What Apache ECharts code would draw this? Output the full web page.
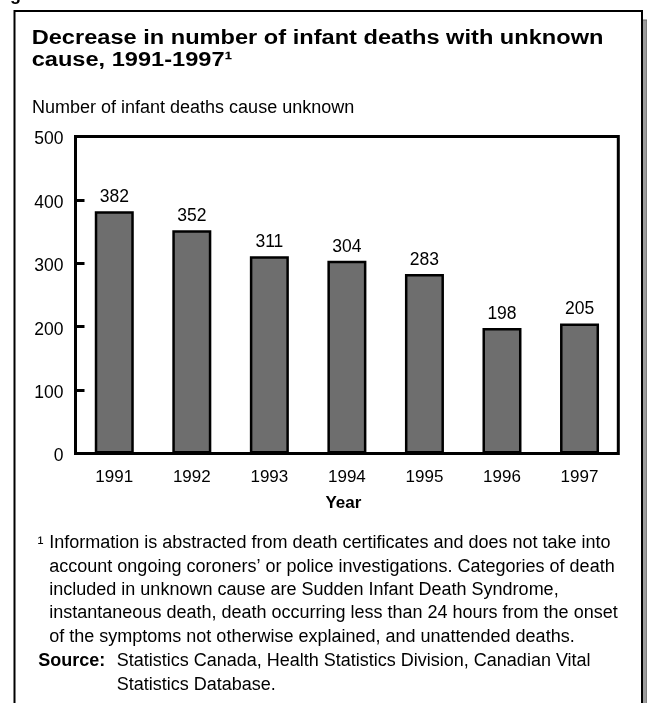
<!DOCTYPE html>
<html>
<head>
<meta charset="utf-8">
<script src="https://cdn.jsdelivr.net/npm/echarts@6/dist/echarts.min.js"></script>
<style>
html,body{margin:0;padding:0;background:#fff;}
#chart{width:647px;height:703px;}
</style>
</head>
<body>
<div id="chart"></div>
<script>
const years = ['1991','1992','1993','1994','1995','1996','1997'];
const deaths = [382, 352, 311, 304, 283, 198, 205];
const yTicks = [0, 100, 200, 300, 400, 500];

const titleLines = ['Decrease in number of infant deaths with unknown', 'cause, 1991-1997\u00B9'];
const yAxisTitle = 'Number of infant deaths cause unknown';
const xAxisTitle = 'Year';
const noteLines = [
  'Information is abstracted from death certificates and does not take into',
  'account ongoing coroners\u2019 or police investigations. Categories of death',
  'included in unknown cause are Sudden Infant Death Syndrome,',
  'instantaneous death, death occurring less than 24 hours from the onset',
  'of the symptoms not otherwise explained, and unattended deaths.'
];
const sourceLines = ['Statistics Canada, Health Statistics Division, Canadian Vital', 'Statistics Database.'];

const FF = '"Liberation Sans", Arial, Helvetica, sans-serif';
const chart = echarts.init(document.getElementById('chart'), null, {renderer: 'canvas'});

const option = {
  backgroundColor: '#fff',
  animation: false,
  grid: {
    left: 75.5, right: 28.7, top: 136.5, height: 317,
    show: true, borderColor: '#000', borderWidth: 3, backgroundColor: 'transparent'
  },
  xAxis: {
    type: 'category',
    data: years,
    name: xAxisTitle,
    nameLocation: 'middle',
    nameGap: 41,
    nameTextStyle: {fontFamily: FF, fontSize: 17, fontWeight: 'bold', color: '#000', padding: [0, 7, 0, 0]},
    axisLine: {show: false},
    axisTick: {show: false},
    axisLabel: {fontFamily: FF, fontSize: 17, color: '#000', margin: 15}
  },
  yAxis: {
    type: 'value',
    min: yTicks[0], max: yTicks[yTicks.length - 1], interval: yTicks[1] - yTicks[0],
    splitLine: {show: false},
    axisLine: {show: false},
    axisTick: {show: true, inside: true, length: 9, lineStyle: {color: '#000', width: 3}},
    axisLabel: {
      fontFamily: FF, fontSize: 17.5, color: '#000', margin: 12,
      formatter: '{v|{value}}',
      rich: {v: {fontFamily: FF, fontSize: 17.5, color: '#000', padding: [6, 0, 0, 0]}}
    }
  },
  series: [{
    type: 'bar',
    data: deaths,
    barWidth: 39,
    itemStyle: {color: '#6e6e6e', borderColor: '#000', borderWidth: 2.5},
    label: {show: true, position: 'top', distance: 5, fontFamily: FF, fontSize: 17.5, color: '#000'}
  }],
  graphic: [
    {type: 'rect', z: -1, shape: {x: 642.5, y: 20, width: 4.5, height: 700}, style: {fill: '#9c9c9c', stroke: '#6a6a6a', lineWidth: 1}},
    {type: 'rect', z: 0, shape: {x: 14.5, y: 11, width: 627.5, height: 710}, style: {fill: 'none', stroke: '#000', lineWidth: 2}},
    {type: 'text', x: -6, y: 4, style: {text: 'Figure', font: 'bold 18px ' + FF, fill: '#000', verticalAlign: 'bottom'}},
    {type: 'text', x: 31.7, y: 27, scaleX: 1.18, originX: 0, originY: 0,
      style: {text: titleLines.join('\n'), font: 'bold 20px ' + FF, lineHeight: 22.5, fill: '#000', verticalAlign: 'top'}},
    {type: 'text', x: 32, y: 99, style: {text: yAxisTitle, font: '18px ' + FF, fill: '#000', verticalAlign: 'top'}},
    {type: 'text', x: 37.5, y: 535, style: {text: '\u00B9', font: '18px ' + FF, fill: '#000', verticalAlign: 'top'}},
    {type: 'text', x: 49.3, y: 531.5, style: {text: noteLines.join('\n'), font: '18px ' + FF, lineHeight: 23.4, fill: '#000', verticalAlign: 'top'}},
    {type: 'text', x: 38.3, y: 649.5, style: {text: 'Source:', font: 'bold 18px ' + FF, lineHeight: 23.4, fill: '#000', verticalAlign: 'top'}},
    {type: 'text', x: 116.7, y: 649.5, style: {text: sourceLines.join('\n'), font: '18px ' + FF, lineHeight: 23.4, fill: '#000', verticalAlign: 'top'}}
  ]
};
chart.setOption(option);
</script>
</body>
</html>
